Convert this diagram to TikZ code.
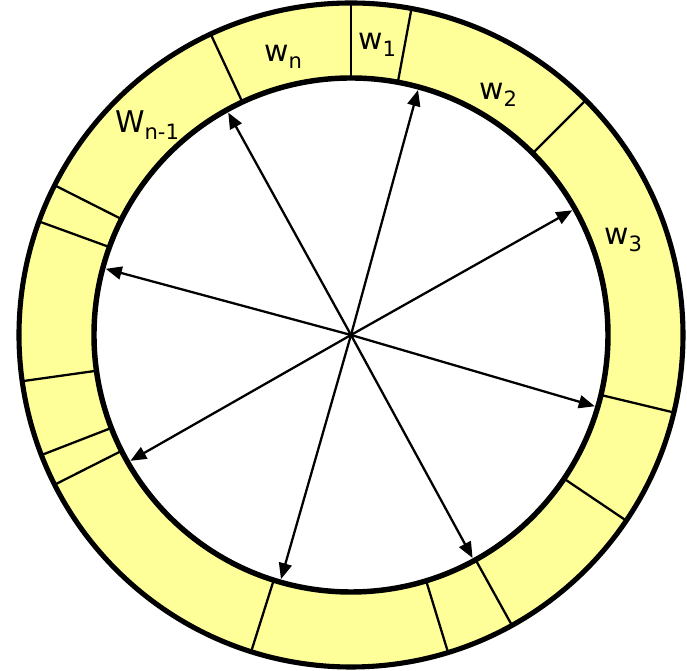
\documentclass[tikz,border=0pt]{standalone}
\usepackage{fontspec}
\setmainfont{DejaVu Sans}
\usetikzlibrary{arrows.meta}
\definecolor{ringyellow}{RGB}{255,255,153}
\newcommand{\wsub}[1]{\raisebox{-0.22em}{\fontsize{12}{12}\selectfont #1}}
\begin{document}
\begin{tikzpicture}[x=0.02cm,y=0.02cm,>={Triangle[length=0.32cm,width=0.26cm]},
  lbl/.style={font=\fontsize{17}{20}\selectfont,inner sep=0pt}]
\useasboundingbox (-351,-336) rectangle (336,335);
\fill[ringyellow,even odd rule] (0,0) circle (332) (0,0) circle (257);
\foreach \a in {90,79.5,45,-13.5,-34,-61,-73,-107.5,-153.2,-158.8,-172,160,153.2,115}
  \draw[line width=1.3pt] (\a:257) -- (\a:332);
\draw[line width=2.9pt] (0,0) circle (332);
\draw[line width=3.1pt] (0,0) circle (257);
\coordinate (o) at (0,0);
\foreach \a [count=\i] in {74.7,29.4,-16.3,-61.4,-106,-150.3,164.9,118.9}{
  \coordinate (t\i) at (\a:254);
  \draw[->,line width=1.3pt] (o) -- (t\i);
}
\node[lbl] (w1) at (26,290) {w\wsub{1}};
\node[lbl] (w2) at (147,240) {w\wsub{2}};
\node[lbl] (w3) at (272,95) {w\wsub{3}};
\node[lbl] (wn) at (-68,278) {w\wsub{n}};
\node[lbl] (wm) at (-204,210) {W\wsub{n-1}};
\end{tikzpicture}
\end{document}
